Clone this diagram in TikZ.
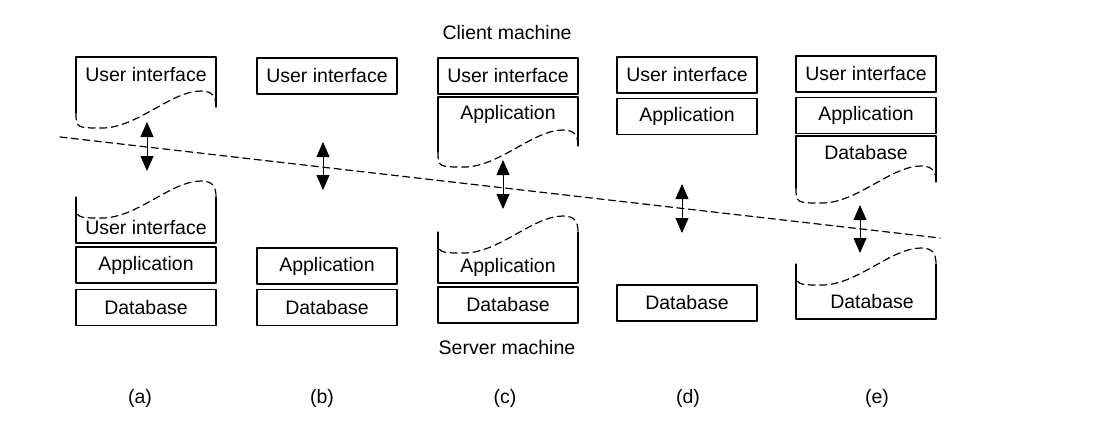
\documentclass[tikz,border=0pt]{standalone}
\usepackage{fontspec}
\setmainfont{Liberation Sans}
\usetikzlibrary{positioning,arrows.meta}

% torn box, kept part on top: left x, top y, y where the tear starts
\newcommand{\tornhigh}[3]{%
  \draw[boxline] (#1+140,#3-6) -- (#1+140,#2) -- (#1,#2) -- (#1,#3);
  \draw[tearline] (#1,#3) .. controls +(0,15) and +(-25,0) .. ++(26,15)
    .. controls +(35,0) and +(-30,0) .. ++(99,-37)
    .. controls +(12,0) and +(0,-10) .. ++(15,16);}
% torn box, kept part below: left x, bottom y, y where the tear starts
\newcommand{\tornlow}[3]{%
  \draw[boxline] (#1+140,#3-6) -- (#1+140,#2) -- (#1,#2) -- (#1,#3-6);
  \draw[tearline] (#1,#3) .. controls +(0,15) and +(-25,0) .. ++(26,15)
    .. controls +(35,0) and +(-30,0) .. ++(99,-37)
    .. controls +(12,0) and +(0,-10) .. ++(15,16);}

\begin{document}
\begin{tikzpicture}[x=1pt, y=-1pt, line cap=round, line join=round,
    font=\fontsize{19.5}{22}\selectfont,
    boxline/.style={line width=1.3pt},
    tearline/.style={line width=1.2pt, dash pattern=on 7pt off 4.5pt},
    layer/.style={draw, line width=1.3pt, minimum width=140pt,
                  minimum height=36pt, inner sep=0pt},
    link/.style={line width=0.8pt,
                 {Triangle[length=15pt,width=13pt]}-{Triangle[length=15pt,width=13pt]}},
    cut/.style={line width=1.2pt, dash pattern=on 7pt off 4.5pt}]

  \useasboundingbox (0,0) rectangle (1114,437);

  % ── client / server split ────────────────────────────────────────────────

  \node (client) at (507,33) {Client machine};
  \node (server) at (507,348) {Server machine};

  \coordinate (cut-l) at (60,137);
  \coordinate (cut-r) at (940,238);
  \draw[cut] (cut-l) -- (cut-r);

  % ── (a) ──────────────────────────────────────────────────────────────────

  \tornhigh{76}{57}{113}
  \node (ui-a1) at (146,75) {User interface};
  \tornlow{76}{243}{203}
  \node (ui-a2) at (146,228) {User interface};
  \node[layer] (app-a) at (146,265) {Application};
  \node[layer, below=5pt of app-a] (db-a) {Database};

  \coordinate (a-up) at (147,122);
  \coordinate (a-dn) at (147,171);
  \draw[link] (a-up) -- (a-dn);

  \node (lab-a) at (140,398) {(a)};

  % ── (b) ──────────────────────────────────────────────────────────────────

  \node[layer] (ui-b) at (327,76) {User interface};
  \node[layer] (app-b) at (327,266) {Application};
  \node[layer, below=4pt of app-b] (db-b) {Database};

  \coordinate (b-up) at (323,142);
  \coordinate (b-dn) at (323,190);
  \draw[link] (b-up) -- (b-dn);

  \node (lab-b) at (322,398) {(b)};

  % ── (c) ──────────────────────────────────────────────────────────────────

  \node[layer] (ui-c) at (508,76) {User interface};
  \tornhigh{438}{97}{152}
  \node (app-c1) at (508,114) {Application};
  \tornlow{438}{283}{238}
  \node (app-c2) at (508,267) {Application};
  \node[layer] (db-c) at (508,305) {Database};

  \coordinate (c-up) at (503,160);
  \coordinate (c-dn) at (503,209);
  \draw[link] (c-up) -- (c-dn);

  \node (lab-c) at (505,398) {(c)};

  % ── (d) ──────────────────────────────────────────────────────────────────

  \node[layer] (ui-d) at (687,75) {User interface};
  \node[layer, below=4pt of ui-d] (app-d) {Application};
  \node[layer] (db-d) at (687,303) {Database};

  \coordinate (d-up) at (682,184);
  \coordinate (d-dn) at (682,233);
  \draw[link] (d-up) -- (d-dn);

  \node (lab-d) at (688,398) {(d)};

  % ── (e) ──────────────────────────────────────────────────────────────────

  \node[layer] (ui-e) at (866,74) {User interface};
  \node[layer, below=4pt of ui-e] (app-e) {Application};
  \tornhigh{796}{136}{188}
  \node (db-e1) at (866,153) {Database};
  \tornlow{796}{319}{270}
  \node (db-e2) at (872,302) {Database};

  \coordinate (e-up) at (860,205);
  \coordinate (e-dn) at (860,253);
  \draw[link] (e-up) -- (e-dn);

  \node (lab-e) at (877,398) {(e)};

\end{tikzpicture}
\end{document}
